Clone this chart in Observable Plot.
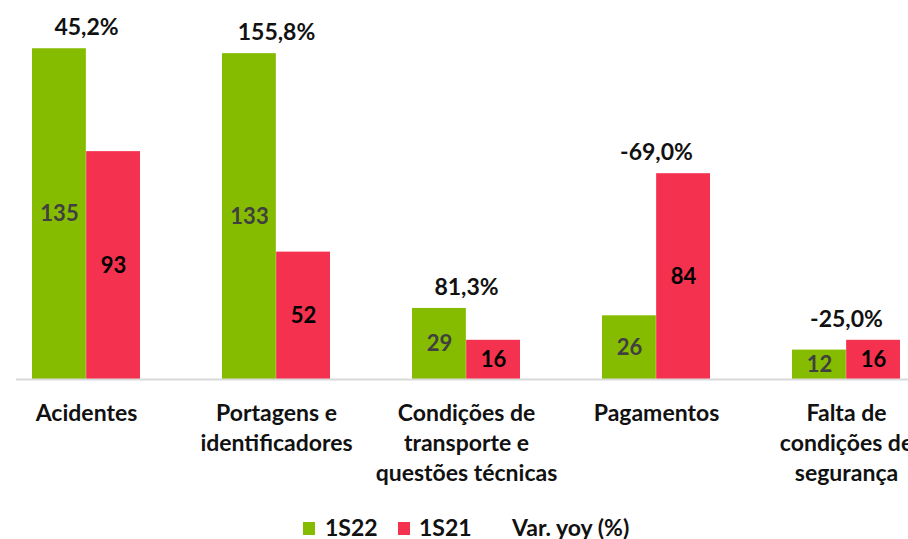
<!DOCTYPE html>
<html>
<head>
<meta charset="utf-8">
<script src="https://cdn.jsdelivr.net/npm/d3@7"></script>
<script src="https://cdn.jsdelivr.net/npm/@observablehq/plot@0.6"></script>
<style>
  html, body { margin: 0; padding: 0; background: #fff; overflow: hidden; width: 908px; height: 539px; }
  #chart svg { display: block; overflow: visible; }
  .legend { position: relative; height: 29px; font-family: Lato, "Open Sans", sans-serif; font-weight: 700; font-size: 23px; line-height: 23px; color: #111; }
  .legend .t { position: absolute; top: 6px; white-space: nowrap; }
  .legend .sw { position: absolute; top: 12px; width: 12px; height: 13px; }
</style>
</head>
<body>
<div id="chart"></div>
<div class="legend" id="legend"></div>
<script>
const categories = ["Acidentes", "Portagens e\nidentificadores", "Condições de\ntransporte e\nquestões técnicas", "Pagamentos", "Falta de\ncondições de\nsegurança"];
const values1S22 = [135, 133, 29, 26, 12];
const values1S21 = [93, 52, 16, 84, 16];
const yoyLabels = ["45,2%", "155,8%", "81,3%", "-69,0%", "-25,0%"];
const seriesNames = ["1S22", "1S21", "Var. yoy (%)"];

const GREEN = "#86BC00";
const RED = "#F4324F";

const data = categories.map((c, i) => ({cat: c, a: values1S22[i], b: values1S21[i], yoy: yoyLabels[i]}));

const font = "Lato, 'Open Sans', sans-serif";
const half = 54.15;

const chart = Plot.plot({
  width: 908,
  height: 510,
  marginTop: 36,
  marginBottom: 131,
  marginLeft: 16,
  marginRight: 0,
  style: {fontFamily: font, fontWeight: 700, fontSize: "23px", background: "transparent", overflow: "visible"},
  x: {domain: categories, range: [-9, 941], paddingInner: 0.43, paddingOuter: 0.215, axis: null},
  y: {domain: [0, 140], axis: null},
  marks: [
    Plot.barY(data, {x: "cat", y: "a", fill: GREEN, insetRight: half}),
    Plot.barY(data, {x: "cat", y: "b", fill: RED, insetLeft: half}),
    Plot.ruleY([0], {stroke: "#d9d9d9", strokeWidth: 2}),
    Plot.text(data, {x: "cat", y: d => d.a / 2, text: d => String(d.a), dx: -27, fill: "#404040", fontSize: 22, fontWeight: 700}),
    Plot.text(data, {x: "cat", y: d => d.b / 2, text: d => String(d.b), dx: 27, fill: "#000", fontSize: 22, fontWeight: 700}),
    Plot.text(data, {x: "cat", y: d => Math.max(d.a, d.b), text: "yoy", dy: -21, fill: "#111", fontSize: 23, fontWeight: 700}),
    Plot.text(data, {x: "cat", y: 0, text: "cat", dy: 20, lineAnchor: "top", lineHeight: 1.3, fill: "#111", fontSize: 23, fontWeight: 700})
  ]
});
document.getElementById("chart").appendChild(chart);

const legend = document.getElementById("legend");
const items = [
  {name: seriesNames[0], color: GREEN, sw: 303, left: 325},
  {name: seriesNames[1], color: RED, sw: 398, left: 419},
  {name: seriesNames[2], color: null, sw: 0, left: 512}
];
for (const it of items) {
  if (it.color) {
    const sw = document.createElement("i");
    sw.className = "sw";
    sw.style.left = it.sw + "px";
    sw.style.background = it.color;
    legend.appendChild(sw);
  }
  const s = document.createElement("span");
  s.className = "t";
  s.style.left = it.left + "px";
  s.textContent = it.name;
  legend.appendChild(s);
}
</script>
</body>
</html>
